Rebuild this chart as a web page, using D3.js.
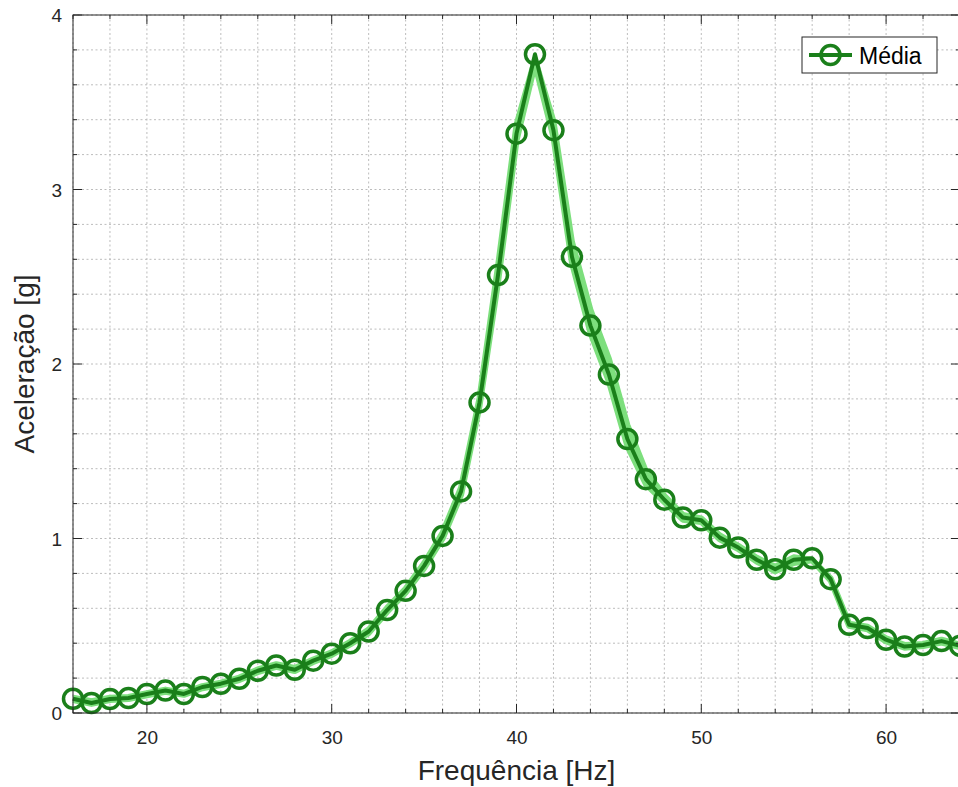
<!DOCTYPE html>
<html>
<head>
<meta charset="utf-8">
<script src="https://cdn.jsdelivr.net/npm/d3@7"></script>
<style>
	body { margin: 0; background: #fff; overflow: hidden; }
	text { font-family: "Liberation Sans", Arial, sans-serif; }
</style>
</head>
<body>
<script>
// frequencias medidas [Hz]
let freq = [16,17,18,19,20,21,22,23,24,25,26,27,28,29,30,31,32,33,34,35,36,37,38,39,40,
	41,42,43,44,45,46,47,48,49,50,51,52,53,54,55,56,57,58,59,60,61,62,63,64]

// media das medidas [g]
let media = [0.082,0.057,0.080,0.086,0.109,0.129,0.109,0.149,0.168,0.196,0.242,0.272,0.248,0.300,0.340,
	0.400,0.467,0.590,0.700,0.843,1.015,1.270,1.780,2.510,3.320,
	3.775,3.340,2.615,2.220,1.940,1.570,1.340,1.222,1.120,1.105,1.005,0.948,0.878,0.824,0.878,0.887,
	0.767,0.506,0.487,0.420,0.381,0.390,0.412,0.385]

// faixa das medidas individuais (limites superior e inferior)
let faixaSup = [0.088,0.068,0.088,0.092,0.114,0.134,0.116,0.154,0.174,0.203,0.250,0.280,0.258,0.306,0.348,
	0.408,0.478,0.602,0.712,0.858,1.032,1.292,1.805,2.560,3.370,
	3.745,3.390,2.700,2.310,2.030,1.650,1.385,1.245,1.135,1.115,1.018,0.958,0.890,0.838,0.892,0.878,
	0.772,0.512,0.494,0.428,0.390,0.396,0.420,0.392]
let faixaInf = [0.074,0.052,0.074,0.080,0.102,0.122,0.104,0.142,0.160,0.189,0.234,0.264,0.240,0.292,0.333,
	0.393,0.458,0.580,0.690,0.830,1.000,1.250,1.760,2.470,3.280,
	3.720,3.300,2.580,2.180,1.900,1.530,1.312,1.208,1.108,1.095,0.995,0.940,0.868,0.812,0.860,0.875,
	0.760,0.500,0.480,0.410,0.374,0.384,0.404,0.378]

let xTicks = [20,30,40,50,60]
let yTicks = [0,1,2,3,4]
let xDominio = [16,64]
let yDominio = [0,4]

let W = 958, H = 787
let x0 = 73, x1 = 960, y0 = 15, y1 = 713

let corEscura = '#1a7f1a'
let corClara = '#7ddf7d'
let corEixo = '#262626'

let svg = d3.select('body').append('svg')
	.attr('width', W).attr('height', H)

let x = d3.scaleLinear().domain(xDominio).range([x0, x1])
let y = d3.scaleLinear().domain(yDominio).range([y1, y0])

// grade (principal + secundaria, tudo pontilhado)
let xGrade = d3.range(xDominio[0], xDominio[1] + 0.001, 2)
let yGrade = d3.range(yDominio[0], yDominio[1] + 0.001, 0.2)

let grade = svg.append('g')
grade.selectAll('.gx').data(xGrade).enter().append('line')
	.attr('x1', d => x(d)).attr('x2', d => x(d))
	.attr('y1', y0).attr('y2', y1)
	.style('stroke', '#bcbcbc').attr('stroke-width', 1)
	.attr('stroke-dasharray', '2,2.5')
grade.selectAll('.gy').data(yGrade).enter().append('line')
	.attr('x1', x0).attr('x2', x1)
	.attr('y1', d => y(d)).attr('y2', d => y(d))
	.style('stroke', '#bcbcbc').attr('stroke-width', 1)
	.attr('stroke-dasharray', '2,2.5')

let dados = freq.map((f, i) => ({f: f, m: media[i], s: faixaSup[i], n: faixaInf[i]}))

let plot = svg.append('g')

// faixa clara
plot.append('path').datum(dados)
	.attr('d', d3.area().x(d => x(d.f)).y0(d => y(d.n)).y1(d => y(d.s)))
	.style('fill', corClara).style('stroke', 'none')
plot.append('path').datum(dados)
	.attr('d', d3.line().x(d => x(d.f)).y(d => y(d.s)))
	.style('fill', 'none').style('stroke', corClara).attr('stroke-width', 6)
	.attr('stroke-linejoin', 'round')
plot.append('path').datum(dados)
	.attr('d', d3.line().x(d => x(d.f)).y(d => y(d.n)))
	.style('fill', 'none').style('stroke', corClara).attr('stroke-width', 6)
	.attr('stroke-linejoin', 'round')

// media
plot.append('path').datum(dados)
	.attr('d', d3.line().x(d => x(d.f)).y(d => y(d.m)))
	.style('fill', 'none').style('stroke', corEscura).attr('stroke-width', 4)
	.attr('stroke-linejoin', 'round')
plot.selectAll('circle').data(dados).enter().append('circle')
	.attr('cx', d => x(d.f)).attr('cy', d => y(d.m))
	.attr('r', 9.5)
	.style('fill', 'none').style('stroke', corEscura).attr('stroke-width', 3.5)

// eixos (caixa)
let eixoB = d3.axisBottom(x).tickValues(xTicks).tickSize(0).tickPadding(18).tickFormat(d3.format('d'))
let eixoL = d3.axisLeft(y).tickValues(yTicks).tickSize(0).tickPadding(11).tickFormat(d3.format('d'))

let gB = svg.append('g').attr('transform', `translate(0,${y1})`).call(eixoB)
let gL = svg.append('g').attr('transform', `translate(${x0},0)`).call(eixoL)
;[gB, gL].forEach(g => {
	g.select('.domain').remove()
	g.selectAll('text').style('font-size', '19px').style('fill', corEixo)
		.style('font-family', '"Liberation Sans", Arial, sans-serif')
})
gB.selectAll('text').attr('dy', '0.71em')
gL.selectAll('text').attr('dy', '0.36em')

svg.append('rect')
	.attr('x', x0).attr('y', y0)
	.attr('width', x1 - x0).attr('height', y1 - y0)
	.style('fill', 'none').style('stroke', corEixo).attr('stroke-width', 1)

// marcas principais e secundarias, para dentro
let marcas = svg.append('g').style('stroke', corEixo).attr('stroke-width', 1)
xGrade.forEach(v => {
	let L = xTicks.includes(v) ? 9 : 4
	marcas.append('line').attr('x1', x(v)).attr('x2', x(v)).attr('y1', y1).attr('y2', y1 - L)
	marcas.append('line').attr('x1', x(v)).attr('x2', x(v)).attr('y1', y0).attr('y2', y0 + L)
})
yGrade.forEach(v => {
	let L = yTicks.some(t => Math.abs(t - v) < 1e-6) ? 9 : 4
	marcas.append('line').attr('x1', x0).attr('x2', x0 + L).attr('y1', y(v)).attr('y2', y(v))
	marcas.append('line').attr('x1', x1).attr('x2', x1 - L).attr('y1', y(v)).attr('y2', y(v))
})

// rotulos
svg.append('text')
	.attr('x', (x0 + x1) / 2).attr('y', 780)
	.attr('text-anchor', 'middle')
	.style('font-size', '28px').style('fill', corEixo)
	.text('Frequência [Hz]')
svg.append('text')
	.attr('transform', `translate(34,${(y0 + y1) / 2}) rotate(-90)`)
	.attr('text-anchor', 'middle')
	.style('font-size', '28px').style('fill', corEixo)
	.text('Aceleração [g]')

// legenda
let leg = svg.append('g')
leg.append('rect')
	.attr('x', 802).attr('y', 37).attr('width', 135).attr('height', 36)
	.style('fill', '#fff').style('stroke', corEixo).attr('stroke-width', 1)
leg.append('line')
	.attr('x1', 809).attr('x2', 852).attr('y1', 55).attr('y2', 55)
	.style('stroke', corEscura).attr('stroke-width', 4)
leg.append('circle')
	.attr('cx', 830.5).attr('cy', 55).attr('r', 9.5)
	.style('fill', 'none').style('stroke', corEscura).attr('stroke-width', 3.5)
leg.append('text')
	.attr('x', 859).attr('y', 64)
	.style('font-size', '23px').style('fill', '#000')
	.text('Média')
</script>
</body>
</html>
